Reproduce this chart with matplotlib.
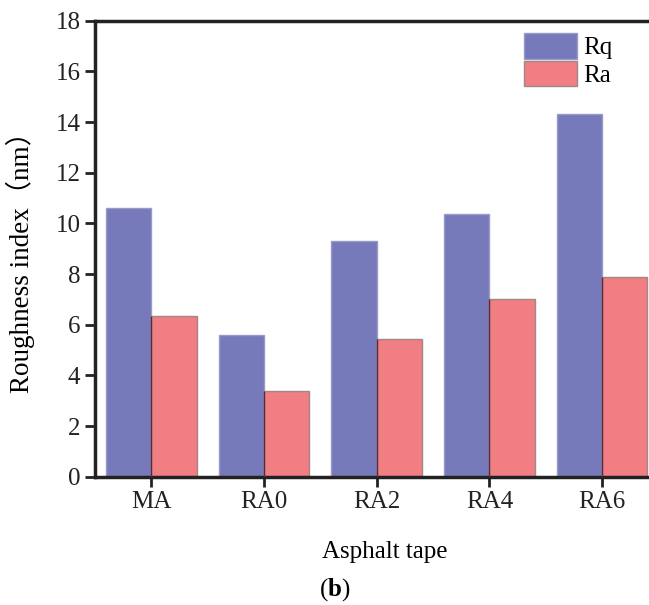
import matplotlib
matplotlib.use("Agg")
import matplotlib.pyplot as plt
import numpy as np

plt.rcParams['font.family'] = ['Liberation Serif', 'Noto Sans CJK SC']
plt.rcParams['mathtext.fontset'] = 'custom'
plt.rcParams['mathtext.bf'] = 'Liberation Serif:bold'
plt.rcParams['mathtext.rm'] = 'Liberation Serif'

categories = ["MA", "RA0", "RA2", "RA4", "RA6"]
rq = [10.6, 5.6, 9.3, 10.35, 14.3]
ra = [6.35, 3.4, 5.45, 7.0, 7.9]

fig = plt.figure(figsize=(6.49, 6.05), dpi=100)
ax = fig.add_axes([0.1464, 0.2121, 0.868, 0.7537])

x = np.arange(len(categories))
w = 0.402
ax.bar(x - w / 2, rq, width=w, color="#777ABA", edgecolor="#9a9ac8", linewidth=1, label="Rq", zorder=2)
ax.bar(x + w / 2, ra, width=w, color="#F07E82", edgecolor="#a08888", linewidth=1, label="Ra", zorder=2)
# dark divider between the pair
ax.vlines(x, 0, ra, color="#5a2a3a", linewidth=1, zorder=3)

ax.set_xlim(-0.5, 4.5)
ax.set_ylim(0, 18)
ax.set_xticks(x)
ax.set_xticklabels(categories)
ax.set_yticks(np.arange(0, 19, 2))
ax.tick_params(axis="both", direction="out", length=7, width=2, labelsize=18, colors="#222222")

for s in ax.spines.values():
    s.set_linewidth(2.5)
    s.set_color("#222222")

ax.set_xlabel("Asphalt tape", fontsize=18)
ax.xaxis.set_label_coords(0.515, -0.14)
ax.set_ylabel("Roughness index（nm）", fontsize=19.5)
ax.yaxis.set_label_coords(-0.106, 0.485)

ax.legend(loc="upper left", bbox_to_anchor=(0.74, 1.0), frameon=False, fontsize=18,
          handlelength=2.1, handleheight=1.2, handletextpad=0.25, labelspacing=0.05,
          borderaxespad=0.1)

fig.text(0.516, 0.0248, r"($\mathbf{b}$)", fontsize=18, ha="center", va="center")

fig.savefig("out.png", dpi=100)
